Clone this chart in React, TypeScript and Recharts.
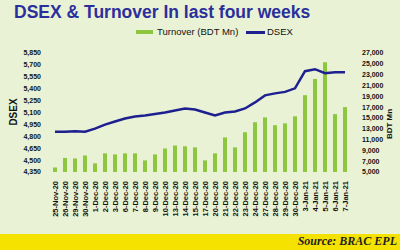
import React from 'react';
import { ComposedChart, Bar, Line, XAxis, YAxis } from 'recharts';

const dates = ["25-Nov-20","26-Nov-20","29-Nov-20","30-Nov-20","1-Dec-20","2-Dec-20","3-Dec-20","6-Dec-20","7-Dec-20","8-Dec-20","9-Dec-20","10-Dec-20","13-Dec-20","14-Dec-20","15-Dec-20","17-Dec-20","20-Dec-20","21-Dec-20","22-Dec-20","23-Dec-20","24-Dec-20","27-Dec-20","28-Dec-20","29-Dec-20","30-Dec-20","3-Jan-21","4-Jan-21","5-Jan-21","6-Jan-21","7-Jan-21"];
const turnover = [5840,7600,7500,8050,6600,8450,8250,8450,8450,7150,8250,9350,9900,9750,9550,7150,8450,11400,9550,12350,14200,15100,13650,14000,15300,19200,22200,25300,15700,17000];
const dsex = [4858,4858,4865,4858,4897,4947,4986,5024,5049,5062,5081,5100,5125,5151,5138,5100,5062,5100,5113,5151,5227,5316,5341,5360,5405,5621,5646,5596,5608,5608];
const leftTicks = [4350,4500,4650,4800,4950,5100,5250,5400,5550,5700,5850];
const rightTicks = [5000,7000,9000,11000,13000,15000,17000,19000,21000,23000,25000,27000];

const data = dates.map((d, i) => ({ date: d, turnover: turnover[i], dsex: dsex[i] }));

const fmt = (v: number) => v.toLocaleString('en-US');

const font = 'Liberation Sans, Arial, sans-serif';

const XTick = (props: any) => {
  const { x, y, payload } = props;
  const yy = y + 1;
  return (
    <text x={x} y={yy} transform={`rotate(-90 ${x} ${yy})`} textAnchor="end" dy={3} fontSize={7.5} fontWeight="bold" fill="#111" fontFamily={font}>
      {payload.value}
    </text>
  );
};

export default function App() {
  return (
    <div style={{ position: 'absolute', left: 0, top: 0, width: 400, height: 250, background: '#e9f2d4', overflow: 'hidden', fontFamily: font }}>
      <div style={{ position: 'absolute', left: 14, top: 2, fontSize: 17.5, fontWeight: 'bold', color: '#2b2f9c', whiteSpace: 'nowrap' }}>
        DSEX &amp; Turnover In last four weeks
      </div>
      <div style={{ position: 'absolute', left: 136, top: 30, width: 17, height: 4, background: '#8dc63f' }} />
      <div style={{ position: 'absolute', left: 157, top: 26, fontSize: 9.5, color: '#111', whiteSpace: 'nowrap' }}>Turnover (BDT Mn)</div>
      <div style={{ position: 'absolute', left: 246, top: 31, width: 19, height: 2.5, background: '#1e2090' }} />
      <div style={{ position: 'absolute', left: 267, top: 26, fontSize: 9.5, color: '#111', whiteSpace: 'nowrap' }}>DSEX</div>
      <div style={{ position: 'absolute', left: 13, top: 112, transform: 'translate(-50%,-50%) rotate(-90deg)', fontSize: 10, fontWeight: 'bold', color: '#111', whiteSpace: 'nowrap' }}>DSEX</div>
      <div style={{ position: 'absolute', left: 389, top: 124, transform: 'translate(-50%,-50%) rotate(-90deg)', fontSize: 8, fontWeight: 'bold', color: '#111', whiteSpace: 'nowrap' }}>BDT Mn</div>
      <div style={{ position: 'absolute', left: 0, top: 234, width: 400, height: 16, background: '#f6e200' }} />
      <div style={{ position: 'absolute', right: 3, top: 234, fontSize: 12, fontWeight: 'bold', fontStyle: 'italic', fontFamily: 'Liberation Serif, Times New Roman, serif', color: '#222', whiteSpace: 'nowrap' }}>Source: BRAC EPL</div>
      <div style={{ position: 'absolute', left: 0, top: 0 }}>
        <ComposedChart width={400} height={250} data={data} margin={{ top: 53, right: 10, left: 10, bottom: 20 }}>
          <XAxis dataKey="date" interval={0} tick={<XTick />} tickLine={false} axisLine={false} height={58} />
          <YAxis yAxisId="left" domain={[4350, 5850]} ticks={leftTicks} interval={0} tickFormatter={fmt} width={40} axisLine={false} tickLine={false} tickMargin={3} tick={{ fontSize: 7, fontWeight: 'bold', fill: '#111', fontFamily: font }} />
          <YAxis yAxisId="right" orientation="right" domain={[5000, 27000]} ticks={rightTicks} interval={0} tickFormatter={fmt} width={40} axisLine={false} tickLine={false} tickMargin={6} tick={{ fontSize: 7, fontWeight: 'bold', fill: '#111', fontFamily: font, textAnchor: 'start' }} />
          <Bar yAxisId="right" dataKey="turnover" fill="#8dc63f" barSize={4} isAnimationActive={false} />
          <Line yAxisId="left" dataKey="dsex" stroke="#1e2090" strokeWidth={2.5} dot={false} type="linear" isAnimationActive={false} />
        </ComposedChart>
      </div>
    </div>
  );
}
